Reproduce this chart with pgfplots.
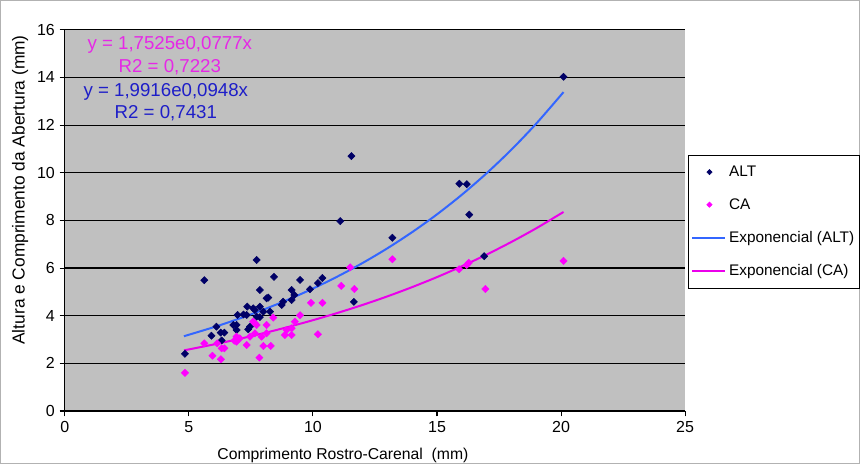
\documentclass[border=0pt]{standalone}
\usepackage{fontspec}
\setmainfont{Liberation Sans}
\usepackage{pgfplots}
\pgfplotsset{compat=1.18}
\definecolor{altc}{RGB}{0,0,102}
\definecolor{cac}{RGB}{255,0,255}
\definecolor{expalt}{RGB}{51,102,255}
\definecolor{expca}{RGB}{235,0,235}
\definecolor{eqpink}{RGB}{230,40,230}
\definecolor{eqblue}{RGB}{30,30,200}
\definecolor{plotbg}{RGB}{192,192,192}
\pgfplotsset{
  legmark/.style={legend image code/.code={\draw[##1, mark size=1.4pt] plot coordinates {(13pt,0pt)};}},
  legline/.style={legend image code/.code={\draw[##1] (0pt,0pt) -- (25pt,0pt);}},
}
\begin{document}
\begin{tikzpicture}[x=1pt,y=1pt]
\draw[gray!60, line width=0.75pt, fill=white] (0.5,0.5) rectangle (644.5,347.5);
\begin{axis}[
  at={(48.75pt,39.75pt)}, anchor=south west,
  scale only axis, width=465pt, height=285.75pt,
  xmin=0, xmax=25, ymin=0, ymax=16,
  xtick={0,5,...,25}, ytick={0,2,...,16},
  ymajorgrids, grid style={black, line width=0.9pt},
  axis background/.style={fill=plotbg},
  axis x line*=bottom, axis y line*=left,
  axis line style={black, line width=0.8pt, -},
  tick align=outside, major tick length=4pt, tick style={black, line width=0.8pt},
  /pgf/number format/assume math mode=true,
  ticklabel style={font=\fontsize{12}{14}\selectfont},
  xlabel={Comprimento Rostro-Carenal\ \ (mm)},
  ylabel={Altura e Comprimento da Abertura (mm)},
  xlabel style={at={(axis description cs:0.4484,-0.1155)}, anchor=center, font=\fontsize{11.8}{14}\selectfont},
  ylabel style={at={(axis description cs:-0.072,0.58)}, anchor=center, font=\fontsize{13}{15}\selectfont},
  legend style={at={(rel axis cs:1.005,0.672)}, anchor=north west, draw=black, fill=white,
    font=\fontsize{11.5}{13}\selectfont, row sep=11pt, inner xsep=2pt, inner ysep=6pt},
  legend cell align=left,
  clip=false,
]
\addplot[only marks, mark=square*, mark options={rotate=45}, mark size=1.9pt, color=altc, legmark]
  table[row sep=\\] {
x y\\
4.84 2.40\\ 5.62 5.49\\ 5.91 3.16\\ 6.11 3.54\\ 6.28 3.29\\ 6.43 3.29\\ 6.32 2.96\\
6.79 3.61\\ 6.92 3.61\\ 6.96 4.03\\ 6.92 3.40\\ 7.20 4.05\\ 7.35 4.38\\ 7.33 4.03\\
7.39 3.43\\ 7.46 3.54\\ 7.59 4.31\\ 7.66 4.24\\ 7.73 6.34\\ 7.73 3.96\\ 7.86 4.38\\
7.86 3.94\\ 7.86 5.08\\ 8.00 4.17\\ 8.13 4.73\\ 8.27 4.17\\ 8.20 4.76\\ 8.43 5.63\\
8.74 4.45\\ 8.80 4.59\\ 9.14 5.08\\ 9.14 4.66\\ 9.25 4.87\\ 9.48 5.50\\ 9.88 5.11\\
10.20 5.37\\ 10.38 5.58\\ 11.10 7.97\\ 11.55 10.70\\ 11.65 4.58\\ 13.20 7.27\\
15.90 9.54\\ 16.20 9.52\\ 16.30 8.24\\ 16.90 6.50\\ 20.10 14.03\\
};
\addlegendentry{ALT}
\addplot[only marks, mark=square*, mark options={rotate=45}, mark size=1.9pt, color=cac, legmark]
  table[row sep=\\] {
x y\\
4.84 1.60\\ 5.62 2.84\\ 5.95 2.32\\ 6.14 2.84\\ 6.29 2.17\\ 6.43 2.63\\ 6.32 2.63\\
6.83 2.95\\ 6.92 3.12\\ 6.92 2.91\\ 7.05 3.05\\ 7.33 2.77\\ 7.46 3.12\\ 7.66 3.26\\
7.66 3.68\\ 7.73 3.61\\ 7.59 3.75\\ 7.84 2.24\\ 7.93 3.12\\ 8.00 2.73\\ 8.13 3.26\\
8.13 3.61\\ 8.30 2.73\\ 8.40 3.92\\ 8.87 3.19\\ 8.94 3.40\\ 9.14 3.19\\ 9.14 3.47\\
9.27 3.75\\ 9.48 4.02\\ 9.92 4.54\\ 10.20 3.22\\ 10.38 4.54\\ 11.14 5.25\\ 11.50 6.03\\
11.67 5.12\\ 13.20 6.37\\ 15.89 5.95\\ 16.20 6.13\\ 16.28 6.22\\ 16.95 5.12\\ 20.10 6.30\\
};
\addlegendentry{CA}
\addplot[color=expalt, line width=1.5pt, smooth, legline]
  coordinates {(4.8,3.139) (6,3.518) (7,3.867) (8,4.252) (9,4.675) (10,5.139) (11,5.651)
  (12,6.212) (13,6.830) (14,7.509) (15,8.255) (16,9.077) (17,9.980) (18,10.972)
  (19,12.064) (20.1,13.386)};
\addlegendentry{Exponencial (ALT)}
\addplot[color=expca, line width=1.5pt, smooth, legline]
  coordinates {(4.8,2.545) (6,2.793) (7,3.019) (8,3.263) (9,3.527) (10,3.812) (11,4.120)
  (12,4.452) (13,4.812) (14,5.201) (15,5.621) (16,6.076) (17,6.566) (18,7.097)
  (19,7.670) (20.1,8.355)};
\addlegendentry{Exponencial (CA)}
\node[eqpink, font=\fontsize{14}{16}\selectfont, anchor=center] at (axis cs:4.23,15.38) {y = 1,7525e0,0777x};
\node[eqpink, font=\fontsize{14}{16}\selectfont, anchor=center] at (axis cs:4.23,14.45) {R2 = 0,7223};
\node[eqblue, font=\fontsize{14}{16}\selectfont, anchor=center] at (axis cs:4.07,13.40) {y = 1,9916e0,0948x};
\node[eqblue, font=\fontsize{14}{16}\selectfont, anchor=center] at (axis cs:4.07,12.52) {R2 = 0,7431};
\end{axis}
\end{tikzpicture}
\end{document}
